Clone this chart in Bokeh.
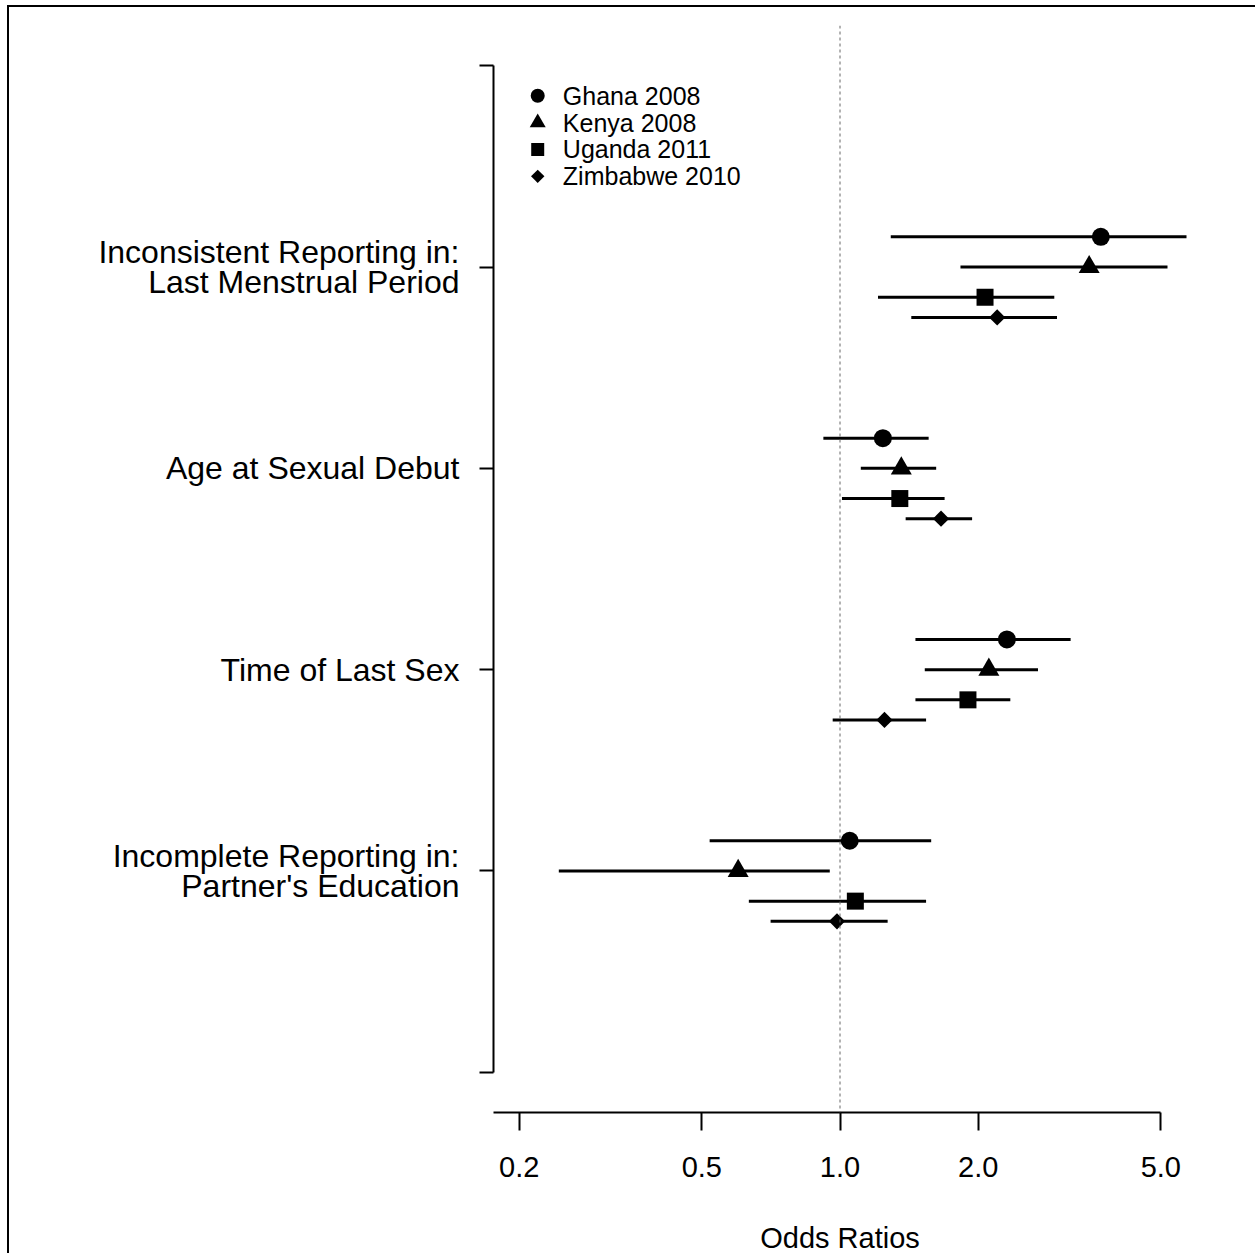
import numpy as np
from bokeh.plotting import figure
from bokeh.models import FixedTicker, Span, PrintfTickFormatter
from bokeh.core.properties import value
from bokeh.embed import file_html
from bokeh.resources import INLINE

# ---------------- data ----------------
categories = ["Inconsistent Reporting in:\nLast Menstrual Period",
              "Age at Sexual Debut",
              "Time of Last Sex",
              "Incomplete Reporting in:\nPartner's Education"]
cat_pos = [4, 3, 2, 1]

series = ["Ghana 2008", "Kenya 2008", "Uganda 2011", "Zimbabwe 2010"]

ghana_or = [3.70, 1.24, 2.31, 1.05]
ghana_lo = [1.29, 0.92, 1.46, 0.52]
ghana_hi = [5.90, 1.56, 3.18, 1.58]

kenya_or = [3.49, 1.36, 2.11, 0.60]
kenya_lo = [1.83, 1.11, 1.53, 0.244]
kenya_hi = [5.17, 1.62, 2.70, 0.95]

uganda_or = [2.07, 1.35, 1.90, 1.08]
uganda_lo = [1.21, 1.01, 1.46, 0.633]
uganda_hi = [2.93, 1.69, 2.35, 1.54]

zimb_or = [2.20, 1.66, 1.25, 0.985]
zimb_lo = [1.43, 1.39, 0.964, 0.706]
zimb_hi = [2.97, 1.94, 1.54, 1.27]

x_ticks = [0.2, 0.5, 1.0, 2.0, 5.0]

# ---------------- styling / layout ----------------
FONT = "Liberation Sans"
offsets = [0.15, 0.0, -0.15, -0.25]
markers = [("circle", 18, 0.0, 14, 0.0),
           ("triangle", 21, 0.0, 16, 0.0),
           ("square", 17, 0.0, 13, 0.0),
           ("square", 11.5, np.pi / 4, 9.5, np.pi / 4)]

lx = np.log10(0.2) - 0.04 * (np.log10(5) - np.log10(0.2))
ux = np.log10(5) + 0.04 * (np.log10(5) - np.log10(0.2))

p = figure(x_axis_type="log", x_range=(10 ** lx, 10 ** ux), y_range=(-0.2, 5.2),
           width=1248, height=1249, output_backend="svg", toolbar_location=None,
           min_border_left=484, min_border_right=71, min_border_top=18,
           min_border_bottom=144)
p.styles = {"border-left": "2px solid black", "border-top": "2px solid black",
            "margin-left": "7px", "margin-top": "5px", "margin-bottom": "-30px"}
p.xgrid.grid_line_color = None
p.ygrid.grid_line_color = None
p.outline_line_color = None
p.background_fill_color = "white"
p.border_fill_color = "white"

# reference line at OR = 1
p.add_layout(Span(location=1.0, dimension="height", line_color="#666666",
                  line_width=1, line_dash="3 3"))

all_or = [ghana_or, kenya_or, uganda_or, zimb_or]
all_lo = [ghana_lo, kenya_lo, uganda_lo, zimb_lo]
all_hi = [ghana_hi, kenya_hi, uganda_hi, zimb_hi]

for i, name in enumerate(series):
    ys = [c + offsets[i] for c in cat_pos]
    p.segment(x0=all_lo[i], y0=ys, x1=all_hi[i], y1=ys, line_color="black",
              line_width=3)
    m, s, a, _, _ = markers[i]
    p.scatter(x=all_or[i], y=ys, marker=m, size=s, angle=a,
              fill_color="black", line_color="black", line_width=0)

# legend (top-left, no box)
LEG_X, LEG_TX, LEG_Y0, LEG_DY = 0.2195, 0.249, 4.851, 0.1335
for i, name in enumerate(series):
    m, _, _, ls, la = markers[i]
    yy = LEG_Y0 - i * LEG_DY
    p.scatter(x=[LEG_X], y=[yy], marker=m, size=ls, angle=la,
              fill_color="black", line_color="black", line_width=0)
    p.text(x=[LEG_TX], y=[yy], text=[name], text_font=value(FONT),
           text_font_size="25px", text_baseline="middle", text_align="left",
           text_color="black")

# x axis
xa = p.xaxis[0]
xa.ticker = FixedTicker(ticks=x_ticks)
xa.formatter = PrintfTickFormatter(format="%.1f")
xa.bounds = (10 ** lx, 5.0)
xa.axis_line_width = 2
xa.major_tick_line_width = 2
xa.major_tick_out = 18
xa.major_tick_in = 0
xa.minor_tick_line_color = None
xa.major_label_standoff = 26
xa.major_label_text_font = FONT
xa.major_label_text_font_size = "29px"
xa.major_label_text_color = "black"
xa.axis_label = "Odds Ratios"
xa.axis_label_text_font = FONT
xa.axis_label_text_font_size = "29px"
xa.axis_label_text_font_style = "normal"
xa.axis_label_text_color = "black"
xa.axis_label_standoff = 42

# y axis (bracket)
ya = p.yaxis[0]
ya.ticker = FixedTicker(ticks=[0, 1, 2, 3, 4, 5])
overrides = {0: "", 5: ""}
for c, lab in zip(cat_pos, categories):
    overrides[c] = lab
ya.major_label_overrides = overrides
ya.bounds = (0, 5)
ya.axis_line_width = 2
ya.major_tick_line_width = 2
ya.major_tick_out = 14
ya.major_tick_in = 0
ya.minor_tick_line_color = None
ya.major_label_standoff = 20
ya.major_label_text_font = FONT
ya.major_label_text_font_size = "32px"
ya.major_label_text_color = "black"
ya.major_label_text_line_height = 0.85

open("out.html", "w").write(file_html(p, INLINE))
